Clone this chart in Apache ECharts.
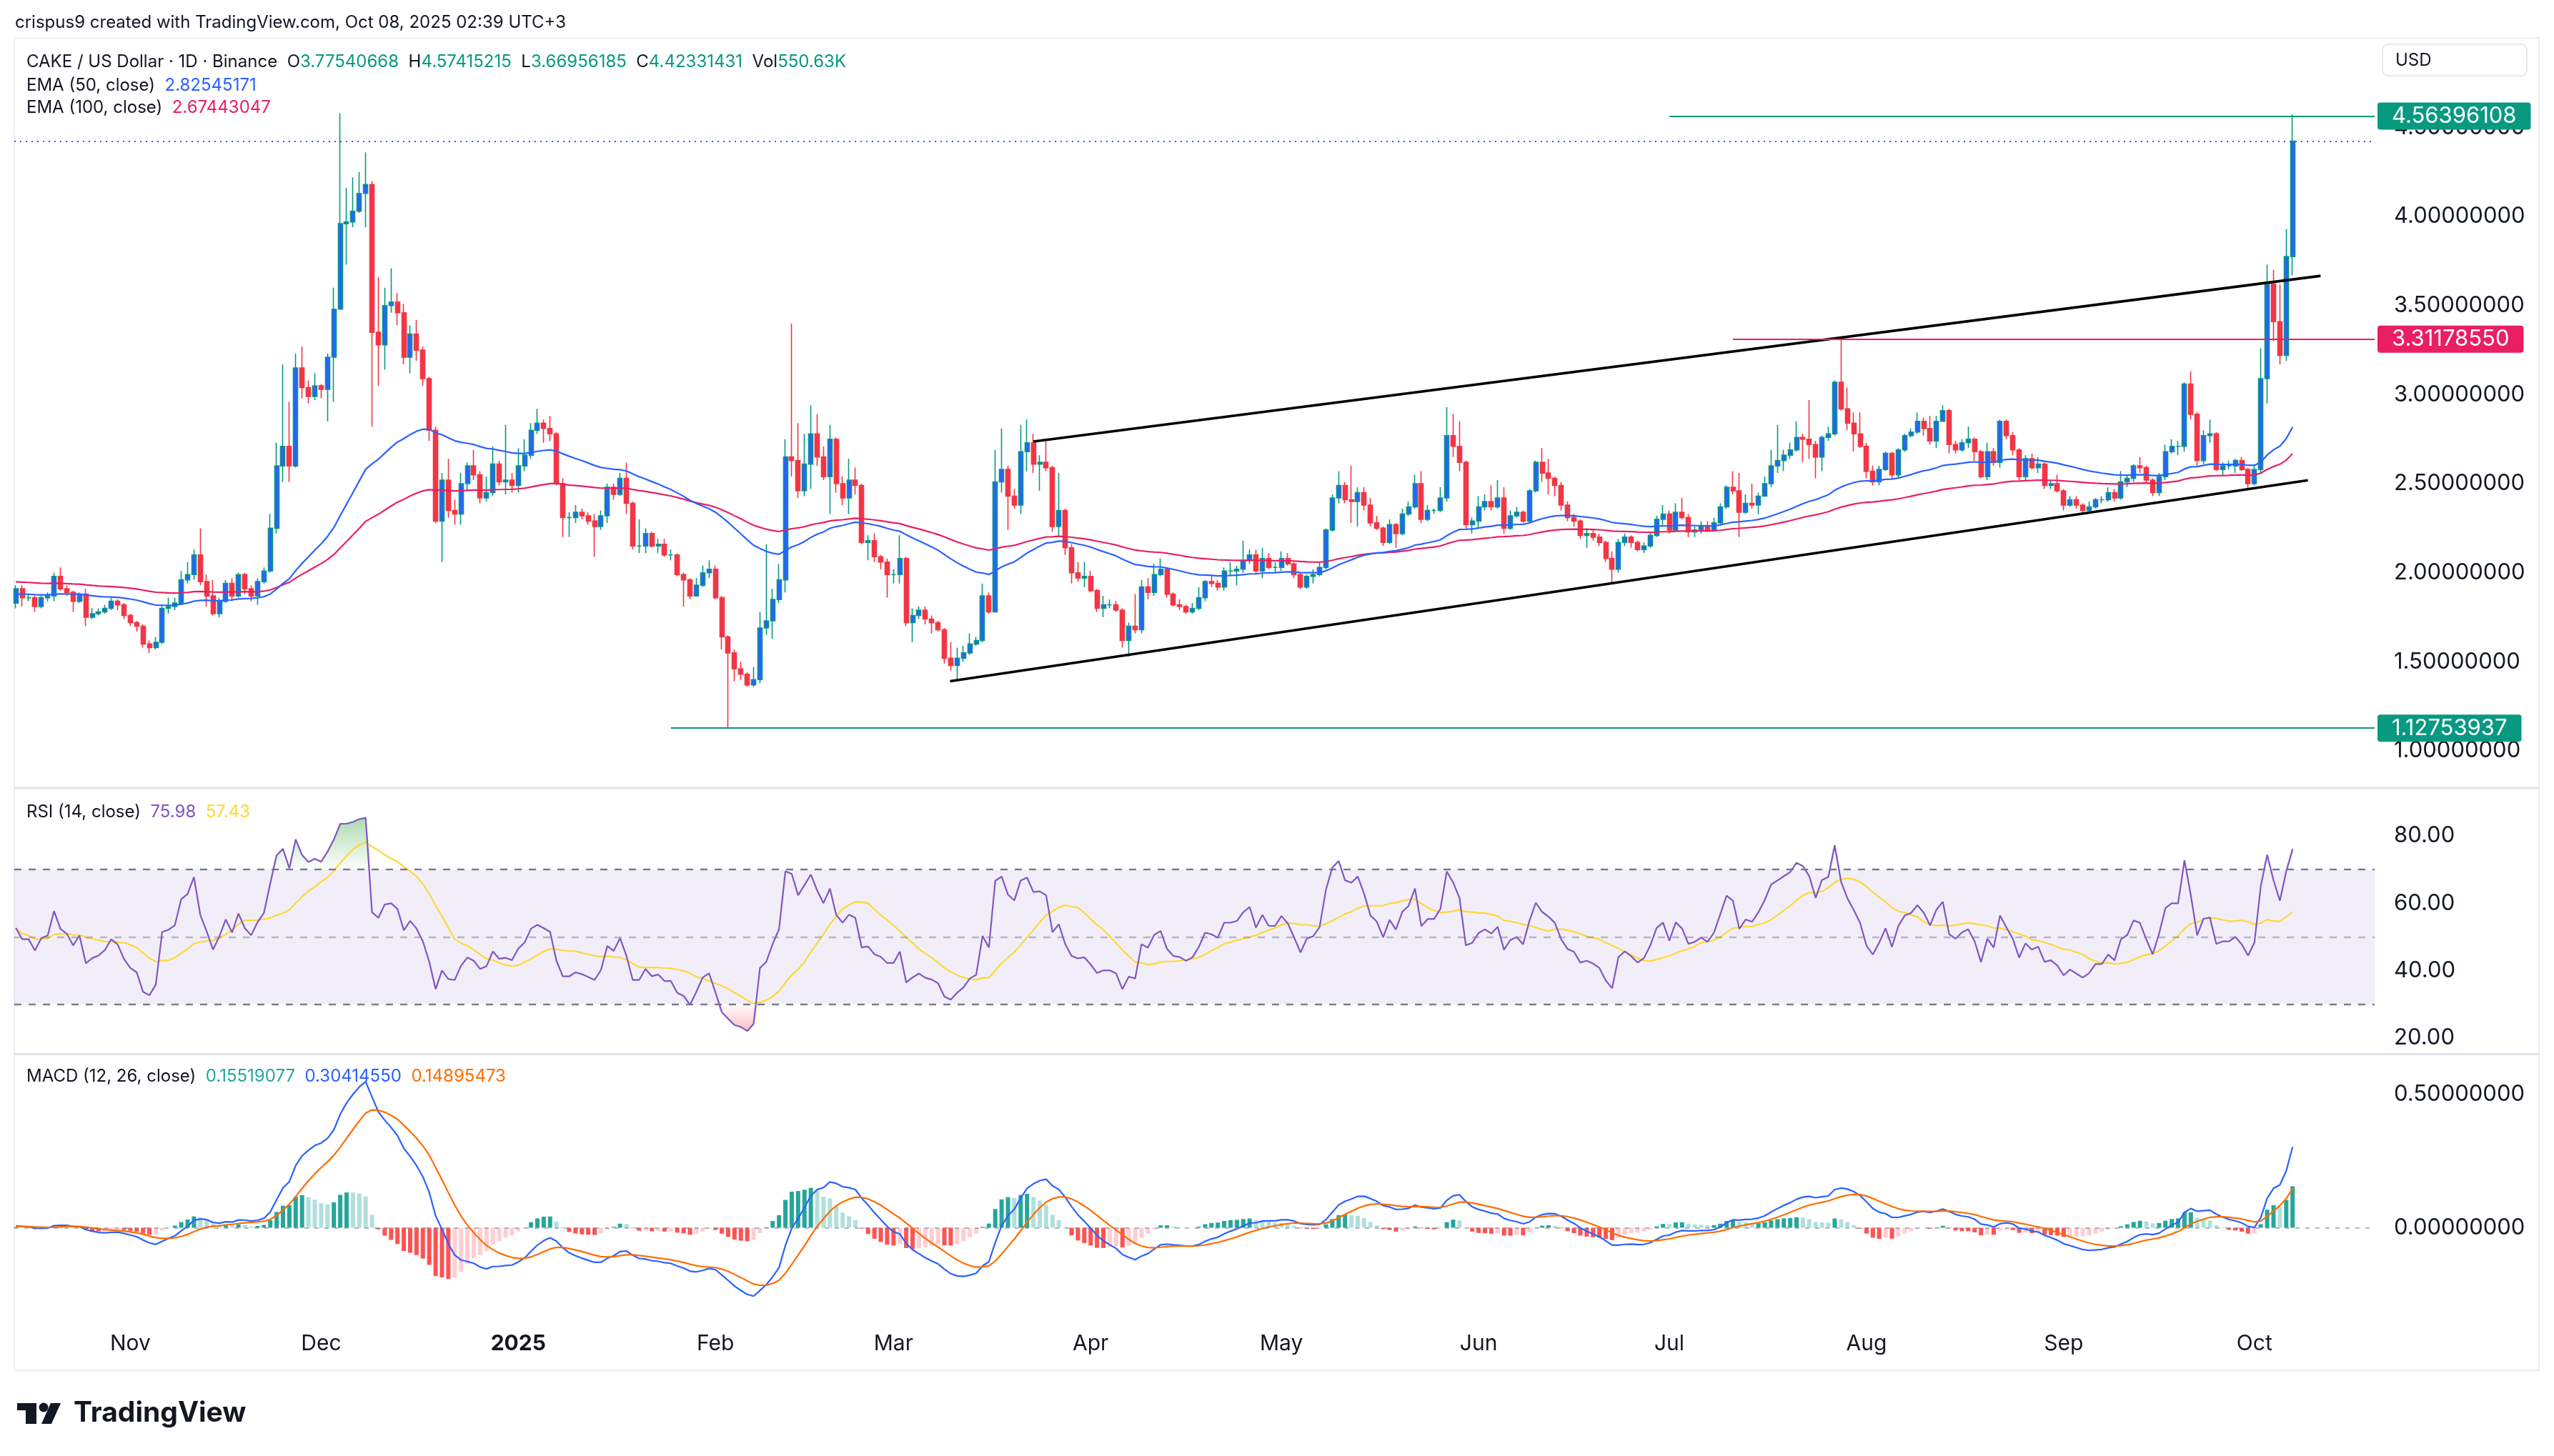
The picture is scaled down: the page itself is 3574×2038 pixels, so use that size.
<!DOCTYPE html>
<html>
<head>
<meta charset="utf-8">
<script src="https://cdn.jsdelivr.net/npm/echarts@6/dist/echarts.min.js"></script>
<style>html,body{margin:0;padding:0;background:#ffffff}#c{width:3574px;height:2038px}</style>
</head>
<body>
<div id="c"></div>
<script>
// ---------- DATA (daily CAKE/USD, day 0 = 2024-10-14) ----------
const startOpen = 1.83;
const closes = [
1.91,1.86,1.86,1.81,1.86,1.87,1.98,1.91,1.89,1.84,
1.88,1.75,1.77,1.78,1.80,1.84,1.82,1.76,1.72,1.70,
1.60,1.58,1.61,1.80,1.81,1.83,1.96,1.99,2.10,1.95,
1.87,1.77,1.84,1.94,1.87,1.99,1.91,1.87,1.95,2.01,
2.25,2.60,2.71,2.60,3.15,3.04,2.99,3.05,3.03,3.21,
3.48,3.96,3.97,4.03,4.13,4.18,3.35,3.28,3.50,3.52,
3.46,3.21,3.34,3.25,3.09,2.80,2.29,2.52,2.35,2.33,
2.50,2.60,2.55,2.42,2.45,2.61,2.51,2.52,2.49,2.60,
2.66,2.80,2.84,2.81,2.78,2.50,2.31,2.31,2.34,2.32,
2.29,2.26,2.32,2.48,2.44,2.53,2.39,2.15,2.15,2.22,
2.15,2.16,2.10,2.10,1.99,1.96,1.87,1.93,2.00,2.02,
1.86,1.64,1.55,1.46,1.43,1.37,1.40,1.69,1.73,1.85,
1.96,2.65,2.63,2.46,2.61,2.78,2.65,2.54,2.75,2.50,
2.42,2.52,2.49,2.17,2.18,2.09,2.06,1.99,1.99,2.08,
1.72,1.76,1.79,1.74,1.72,1.68,1.52,1.48,1.52,1.55,
1.60,1.62,1.87,1.78,2.51,2.58,2.43,2.38,2.68,2.73,
2.61,2.62,2.59,2.26,2.35,2.14,2.00,1.97,1.98,1.90,
1.80,1.82,1.82,1.79,1.62,1.70,1.68,1.92,1.89,1.99,
2.02,1.88,1.82,1.81,1.78,1.80,1.86,1.95,1.94,1.92,
2.01,2.01,2.02,2.07,2.10,2.01,2.08,2.03,2.03,2.08,
2.05,1.99,1.92,1.98,1.99,2.03,2.24,2.42,2.49,2.41,
2.40,2.45,2.38,2.28,2.25,2.17,2.27,2.22,2.33,2.37,
2.50,2.30,2.35,2.35,2.42,2.77,2.71,2.62,2.27,2.29,
2.37,2.40,2.37,2.42,2.25,2.32,2.34,2.29,2.46,2.62,
2.56,2.53,2.49,2.38,2.31,2.29,2.21,2.22,2.20,2.17,
2.08,2.02,2.17,2.20,2.17,2.13,2.15,2.21,2.30,2.33,
2.24,2.34,2.31,2.23,2.24,2.26,2.24,2.28,2.37,2.48,
2.46,2.34,2.39,2.38,2.43,2.50,2.60,2.63,2.66,2.69,
2.76,2.75,2.72,2.65,2.76,2.78,3.07,2.92,2.84,2.78,
2.71,2.57,2.51,2.58,2.67,2.55,2.69,2.77,2.79,2.85,
2.81,2.74,2.85,2.91,2.72,2.69,2.73,2.75,2.68,2.54,
2.68,2.62,2.85,2.77,2.69,2.54,2.64,2.59,2.61,2.49,
2.50,2.46,2.38,2.41,2.38,2.35,2.37,2.41,2.41,2.45,
2.42,2.51,2.53,2.60,2.59,2.52,2.45,2.54,2.68,2.71,
2.71,3.06,2.89,2.63,2.77,2.78,2.58,2.60,2.60,2.63,
2.58,2.50,2.58,3.09,3.62,3.41,3.22,3.77540668,4.42331431
];
const highs = [
1.93,1.93,1.88,1.87,1.87,1.89,2.00,2.03,1.93,1.90,
1.89,1.91,1.80,1.80,1.82,1.86,1.85,1.83,1.77,1.73,
1.71,1.62,1.64,1.82,1.86,1.86,2.01,2.06,2.13,2.25,
1.99,1.96,1.86,1.96,1.97,2.00,2.00,1.93,1.97,2.03,
2.33,2.73,3.17,2.96,3.23,3.27,3.08,3.12,3.06,3.23,
3.60,4.58,4.16,4.22,4.25,4.36,4.20,3.66,3.60,3.71,
3.57,3.51,3.39,3.42,3.27,3.10,2.82,2.56,2.64,2.41,
2.56,2.62,2.69,2.57,2.54,2.71,2.63,2.83,2.56,2.70,
2.75,2.84,2.92,2.86,2.88,2.79,2.53,2.34,2.38,2.36,
2.34,2.33,2.35,2.50,2.50,2.56,2.62,2.40,2.30,2.25,
2.23,2.19,2.19,2.13,2.11,2.00,1.97,1.97,2.04,2.07,
2.04,1.87,1.65,1.57,1.50,1.44,1.47,1.78,2.16,1.91,
2.05,2.75,3.40,2.84,2.78,2.94,2.89,2.71,2.83,2.76,
2.54,2.64,2.59,2.50,2.21,2.22,2.10,2.08,2.02,2.21,
2.09,1.80,1.81,1.81,1.76,1.73,1.69,1.61,1.58,1.59,
1.66,1.64,1.94,1.89,2.69,2.81,2.60,2.47,2.83,2.86,
2.78,2.66,2.74,2.60,2.56,2.36,2.16,2.06,2.06,2.01,
1.91,1.87,1.85,1.84,1.80,1.72,1.88,1.96,1.97,2.05,
2.08,2.03,1.89,1.85,1.82,1.83,1.92,1.96,1.99,1.96,
2.03,2.06,2.04,2.18,2.13,2.13,2.14,2.11,2.06,2.12,
2.11,2.06,2.00,1.99,2.02,2.06,2.25,2.44,2.57,2.51,
2.60,2.48,2.48,2.42,2.32,2.26,2.30,2.28,2.36,2.40,
2.55,2.57,2.38,2.36,2.48,2.93,2.89,2.85,2.63,2.31,
2.43,2.44,2.49,2.52,2.48,2.35,2.37,2.35,2.47,2.63,
2.70,2.64,2.54,2.51,2.40,2.33,2.30,2.25,2.24,2.22,
2.18,2.12,2.19,2.22,2.21,2.18,2.17,2.23,2.32,2.38,
2.35,2.39,2.42,2.33,2.26,2.29,2.29,2.31,2.39,2.49,
2.57,2.56,2.44,2.50,2.45,2.54,2.69,2.83,2.69,2.73,
2.85,2.78,2.97,2.74,2.77,2.82,3.08,3.31,3.04,2.90,
2.90,2.73,2.60,2.60,2.68,2.68,2.70,2.78,2.81,2.90,
2.87,2.88,2.88,2.94,2.92,2.74,2.75,2.82,2.76,2.69,
2.73,2.70,2.86,2.86,2.79,2.70,2.66,2.67,2.65,2.62,
2.52,2.55,2.47,2.43,2.43,2.39,2.40,2.42,2.43,2.48,
2.47,2.57,2.55,2.61,2.65,2.60,2.53,2.56,2.72,2.75,
2.74,3.07,3.13,2.90,2.80,2.86,2.79,2.62,2.63,2.64,
2.65,2.59,2.61,3.26,3.73,3.70,3.62,3.93,4.57415215
];
const lows = [
1.80,1.81,1.84,1.78,1.80,1.84,1.84,1.90,1.87,1.78,
1.83,1.70,1.74,1.76,1.77,1.79,1.79,1.74,1.70,1.67,
1.58,1.55,1.57,1.60,1.77,1.79,1.82,1.94,1.96,1.93,
1.81,1.76,1.75,1.83,1.84,1.86,1.88,1.84,1.82,1.94,
2.00,2.22,2.51,2.51,2.59,2.98,2.95,2.97,2.98,2.85,
2.96,3.48,3.73,3.94,4.02,3.94,2.82,3.05,3.14,3.46,
3.39,3.17,3.12,3.19,3.05,2.74,2.28,2.06,2.31,2.27,
2.27,2.46,2.52,2.39,2.40,2.43,2.49,2.44,2.45,2.45,
2.57,2.64,2.78,2.73,2.74,2.49,2.20,2.20,2.28,2.30,
2.27,2.09,2.24,2.28,2.41,2.43,2.33,2.13,2.11,2.11,
2.14,2.11,2.09,2.07,1.98,1.81,1.85,1.87,1.92,1.97,
1.85,1.57,1.12753937,1.39,1.40,1.36,1.36,1.38,1.65,1.63,
1.83,1.89,2.54,2.42,2.43,2.47,2.60,2.52,2.33,2.45,
2.38,2.33,2.44,2.16,2.07,2.06,2.02,1.86,1.94,1.94,
1.70,1.61,1.74,1.71,1.66,1.67,1.49,1.45,1.40,1.50,
1.54,1.59,1.61,1.77,1.78,2.45,2.24,2.36,2.33,2.57,
2.56,2.46,2.57,2.23,2.20,2.10,1.94,1.95,1.92,1.89,
1.78,1.75,1.80,1.78,1.58,1.53,1.66,1.66,1.85,1.87,
1.98,1.86,1.81,1.79,1.77,1.77,1.79,1.84,1.92,1.90,
1.90,1.98,1.93,2.00,2.05,2.00,1.97,2.02,2.00,2.01,
2.04,1.97,1.91,1.91,1.94,1.98,2.02,2.23,2.39,2.39,
2.28,2.26,2.35,2.26,2.24,2.15,2.16,2.14,2.21,2.32,
2.36,2.28,2.29,2.33,2.34,2.40,2.65,2.57,2.25,2.22,
2.25,2.35,2.35,2.36,2.22,2.24,2.31,2.28,2.28,2.45,
2.51,2.44,2.43,2.35,2.29,2.26,2.19,2.14,2.18,2.15,
2.06,1.94,2.00,2.15,2.14,2.12,2.11,2.14,2.20,2.27,
2.22,2.23,2.30,2.20,2.20,2.22,2.23,2.23,2.27,2.36,
2.44,2.20,2.33,2.36,2.33,2.43,2.48,2.56,2.57,2.64,
2.68,2.62,2.64,2.53,2.57,2.74,2.77,2.91,2.80,2.68,
2.70,2.53,2.49,2.49,2.57,2.53,2.53,2.68,2.76,2.78,
2.77,2.72,2.70,2.85,2.67,2.67,2.68,2.70,2.63,2.53,
2.52,2.60,2.59,2.75,2.66,2.52,2.52,2.58,2.56,2.47,
2.47,2.45,2.35,2.37,2.36,2.33,2.34,2.36,2.39,2.40,
2.40,2.41,2.48,2.51,2.56,2.50,2.43,2.43,2.52,2.67,
2.66,2.68,2.86,2.60,2.61,2.73,2.57,2.55,2.58,2.56,
2.57,2.47,2.49,2.56,2.95,3.30,3.17,3.19,3.66956185
];
// month-start day indices and their labels
const monthTicks = [18,48,79,110,138,169,199,230,260,291,322,352];
const monthLabels = ['Nov','Dec','2025','Feb','Mar','Apr','May','Jun','Jul','Aug','Sep','Oct'];
const priceTicks = [1,1.5,2,2.5,3,3.5,4,4.5];
const rsiTicks = [20,40,60,80];
const macdTicks = [0,0.5];
// drawn levels (value, start day)
const levelHigh = 4.56396108, levelHighStart = 260;
const levelRes = 3.31178550, levelResStart = 270;
const levelLow = 1.12753937, levelLowStart = 103;
const lastClose = 4.42331431;
const lowerChannel = [[146.9, 1.391], [360.4, 2.519]];
const upperChannel = [[160.0, 2.737], [362.4, 3.667]];
// indicator state carried in from before day 0
const ema50Seed = 1.88, ema100Seed = 1.95;
const ema12Seed = 1.875, ema26Seed = 1.87, signalSeed = 0.004;
const rsiGainSeed = 0.030, rsiLossSeed = 0.027;

// ---------- derived series (standard indicator definitions) ----------
const N = closes.length;
const opens = closes.map((c, i) => i === 0 ? startOpen : closes[i - 1]);
const candles = closes.map((c, i) => [i, opens[i], c, lows[i], highs[i]]);
function emaOf(src, period, seed) {
  const a = 2 / (period + 1); let e = seed;
  return src.map(v => (e = a * v + (1 - a) * e));
}
const ema50 = emaOf(closes, 50, ema50Seed);
const ema100 = emaOf(closes, 100, ema100Seed);
const ema12 = emaOf(closes, 12, ema12Seed);
const ema26 = emaOf(closes, 26, ema26Seed);
const macd = ema12.map((v, i) => v - ema26[i]);
const signal = emaOf(macd, 9, signalSeed);
const hist = macd.map((v, i) => v - signal[i]);
const histColors = hist.map((h, i) => {
  const p = i === 0 ? 0 : hist[i - 1];
  if (h >= 0) return h >= p ? '#26a69a' : '#b2dfdb';
  return h <= p ? '#ff5252' : '#ffcdd2';
});
let ag = rsiGainSeed, al = rsiLossSeed;
const rsi = closes.map((c, i) => {
  if (i > 0) {
    const ch = c - closes[i - 1];
    ag = (ag * 13 + Math.max(ch, 0)) / 14;
    al = (al * 13 + Math.max(-ch, 0)) / 14;
  }
  return 100 - 100 / (1 + ag / al);
});
const rsiMA = rsi.map((v, i) => {
  const s = rsi.slice(Math.max(0, i - 13), i + 1);
  return s.reduce((a, b) => a + b, 0) / s.length;
});
const xy = arr => arr.map((v, i) => [i, v]);

// ---------- layout ----------
const FONT = 'Inter, "Noto Sans", sans-serif';
const TXT = '#131722';
const xMin = -0.25, xMax = 370.9;
const G = { left: 20, width: 3303 };

function xAxisFor(gi, show) {
  return {
    type: 'value', gridIndex: gi, min: xMin, max: xMax,
    axisLine: { show: false }, axisTick: { show: false }, splitLine: { show: false },
    axisLabel: show ? {
      show: true, customValues: monthTicks, color: TXT, fontSize: 30, fontFamily: FONT,
      margin: 30, verticalAlign: 'middle',
      formatter: v => {
        const k = monthTicks.findIndex(t => Math.abs(t - v) < 0.01);
        const s = k >= 0 ? monthLabels[k] : '';
        return /^\d{4}$/.test(s) ? '{b|' + s + '}' : s;
      },
      rich: { b: { fontWeight: 'bold', fontSize: 30, fontFamily: FONT, color: TXT } }
    } : { show: false }
  };
}
function yAxisFor(gi, min, max, ticks, dec) {
  return {
    type: 'value', gridIndex: gi, position: 'right', min, max,
    axisLine: { show: false }, axisTick: { show: false }, splitLine: { show: false },
    axisLabel: { customValues: ticks, formatter: v => v.toFixed(dec), color: TXT, fontSize: 31, fontFamily: FONT, margin: 27 }
  };
}
const lvlLabel = (txt, bg) => ({
  show: true, position: 'end', distance: 4, formatter: txt, color: '#ffffff',
  backgroundColor: bg, fontSize: 31, fontFamily: FONT, lineHeight: 30,
  padding: [4, 20, 4, 20], borderRadius: 4
});

const option = {
  animation: false,
  backgroundColor: '#ffffff',
  textStyle: { fontFamily: FONT },
  grid: [
    { left: G.left, width: G.width, top: 57, height: 1044, containLabel: false, outerBoundsMode: 'none' },
    { left: G.left, width: G.width, top: 1104, height: 370, containLabel: false, outerBoundsMode: 'none' },
    { left: G.left, width: G.width, top: 1477, height: 374, containLabel: false, outerBoundsMode: 'none' }
  ],
  xAxis: [xAxisFor(0, false), xAxisFor(1, false), xAxisFor(2, true)],
  yAxis: [
    yAxisFor(0, 0.79944, 4.9872, priceTicks, 8),
    yAxisFor(1, 15.48, 94.0, rsiTicks, 2),
    yAxisFor(2, -0.3552, 0.6475, macdTicks, 8)
  ],
  series: [
    {
      type: 'candlestick', name: 'CAKE', xAxisIndex: 0, yAxisIndex: 0,
      data: candles, encode: { x: 0, y: [1, 2, 3, 4] }, barWidth: 6.5,
      itemStyle: { color: '#2962ff', color0: '#f23645', borderColor: '#089981', borderColor0: '#f23645', borderWidth: 1.6 }
    },
    {
      type: 'line', name: 'EMA100', xAxisIndex: 0, yAxisIndex: 0, data: xy(ema100),
      showSymbol: false, silent: true, lineStyle: { color: '#e91e63', width: 2.2 }
    },
    {
      type: 'line', name: 'EMA50', xAxisIndex: 0, yAxisIndex: 0, data: xy(ema50),
      showSymbol: false, silent: true, clip: false, lineStyle: { color: '#2962ff', width: 2.2 },
      markLine: {
        silent: true, symbol: ['none', 'none'], animation: false,
        data: [
          [{ coord: [xMin, lastClose], lineStyle: { color: '#2962ff', width: 2, type: [2, 6] }, label: { show: false } }, { coord: [xMax, lastClose] }],
          [{ coord: lowerChannel[0], lineStyle: { color: '#000000', width: 3.6, type: 'solid' }, label: { show: false } }, { coord: lowerChannel[1] }],
          [{ coord: upperChannel[0], lineStyle: { color: '#000000', width: 3.6, type: 'solid' }, label: { show: false } }, { coord: upperChannel[1] }],
          [{ coord: [levelHighStart, levelHigh], lineStyle: { color: '#089981', width: 2.2, type: 'solid' }, label: lvlLabel(levelHigh.toFixed(8), '#089981') }, { coord: [xMax, levelHigh] }],
          [{ coord: [levelResStart, levelRes], lineStyle: { color: '#e91e63', width: 2.2, type: 'solid' }, label: lvlLabel(levelRes.toFixed(8), '#e91e63') }, { coord: [xMax, levelRes] }],
          [{ coord: [levelLowStart, levelLow], lineStyle: { color: '#089981', width: 2.2, type: 'solid' }, label: lvlLabel(levelLow.toFixed(8), '#089981') }, { coord: [xMax, levelLow] }]
        ]
      }
    },
    // RSI pane
    {
      type: 'line', name: 'obFill', xAxisIndex: 1, yAxisIndex: 1, data: xy(rsi.map(v => Math.max(v, 70))),
      showSymbol: false, silent: true, lineStyle: { opacity: 0, width: 0 },
      areaStyle: { origin: 70, color: { type: 'linear', x: 0, y: 0, x2: 0, y2: 1, colorStops: [{ offset: 0, color: 'rgba(76,175,80,0.65)' }, { offset: 1, color: 'rgba(76,175,80,0.02)' }] } }
    },
    {
      type: 'line', name: 'osFill', xAxisIndex: 1, yAxisIndex: 1, data: xy(rsi.map(v => Math.min(v, 30))),
      showSymbol: false, silent: true, lineStyle: { opacity: 0, width: 0 },
      areaStyle: { origin: 30, color: { type: 'linear', x: 0, y: 0, x2: 0, y2: 1, colorStops: [{ offset: 0, color: 'rgba(242,54,69,0.02)' }, { offset: 1, color: 'rgba(242,54,69,0.45)' }] } }
    },
    {
      type: 'line', name: 'RSI', xAxisIndex: 1, yAxisIndex: 1, data: xy(rsi),
      showSymbol: false, silent: true, lineStyle: { color: '#7e57c2', width: 2.2 }, z: 4,
      markArea: { silent: true, itemStyle: { color: 'rgba(126,87,194,0.10)' }, data: [[{ yAxis: 30 }, { yAxis: 70 }]] },
      markLine: {
        silent: true, symbol: ['none', 'none'], label: { show: false },
        data: [
          { yAxis: 70, lineStyle: { color: '#787b86', width: 2.4, type: [10, 10] } },
          { yAxis: 50, lineStyle: { color: 'rgba(120,123,134,0.5)', width: 2.4, type: [10, 10] } },
          { yAxis: 30, lineStyle: { color: '#787b86', width: 2.4, type: [10, 10] } }
        ]
      }
    },
    {
      type: 'line', name: 'RSI MA', xAxisIndex: 1, yAxisIndex: 1, data: xy(rsiMA),
      showSymbol: false, silent: true, lineStyle: { color: '#fdd835', width: 2.2 }, z: 3
    },
    // MACD pane
    {
      type: 'bar', name: 'Hist', xAxisIndex: 2, yAxisIndex: 2, barWidth: 6, silent: true,
      data: hist.map((v, i) => ({ value: [i, v], itemStyle: { color: histColors[i] } })),
      markLine: {
        silent: true, symbol: ['none', 'none'], label: { show: false },
        data: [{ yAxis: 0, lineStyle: { color: 'rgba(120,123,134,0.55)', width: 2, type: [6, 8] } }]
      }
    },
    {
      type: 'line', name: 'MACD', xAxisIndex: 2, yAxisIndex: 2, data: xy(macd),
      showSymbol: false, silent: true, lineStyle: { color: '#2962ff', width: 2.2 }, z: 4
    },
    {
      type: 'line', name: 'Signal', xAxisIndex: 2, yAxisIndex: 2, data: xy(signal),
      showSymbol: false, silent: true, lineStyle: { color: '#ff6d00', width: 2.2 }, z: 4
    }
  ],
  graphic: [
    { type: 'rect', silent: true, z: 0, shape: { x: 20, y: 53, width: 3533, height: 1865 }, style: { fill: 'none', stroke: '#eceef2', lineWidth: 2 } },
    { type: 'rect', silent: true, z: 0, shape: { x: 20, y: 1101.5, width: 3533, height: 3 }, style: { fill: '#e0e3eb' } },
    { type: 'rect', silent: true, z: 0, shape: { x: 20, y: 1474, width: 3533, height: 3 }, style: { fill: '#e0e3eb' } },
    { type: 'rect', silent: true, z: 10, shape: { x: 3334, y: 62, width: 202, height: 44, r: 8 }, style: { fill: '#ffffff', stroke: '#e6e8ee', lineWidth: 2 } },
    { type: 'text', silent: true, z: 11, x: 3352, y: 85, style: { text: 'USD', fill: TXT, fontSize: 24, fontFamily: FONT, verticalAlign: 'middle' } },
    { type: 'text', silent: true, z: 11, x: 21, y: 32, style: { text: 'crispus9 created with TradingView.com, Oct 08, 2025 02:39 UTC+3', fill: TXT, fontSize: 24, fontFamily: FONT, verticalAlign: 'middle' } },
    { type: 'text', silent: true, z: 11, x: 37, y: 87, style: {
        text: '{k|CAKE / US Dollar · 1D · Binance}  {k|O}{g|3.77540668}  {k|H}{g|4.57415215}  {k|L}{g|3.66956185}  {k|C}{g|4.42331431}  {k|Vol}{g|550.63K}',
        verticalAlign: 'middle', fontSize: 24, fontFamily: FONT,
        rich: { k: { fill: TXT, fontSize: 24, fontFamily: FONT }, g: { fill: '#089981', fontSize: 24, fontFamily: FONT } } } },
    { type: 'text', silent: true, z: 11, x: 37, y: 120, style: {
        text: '{k|EMA (50, close)}  {b|2.82545171}', verticalAlign: 'middle', fontSize: 24, fontFamily: FONT,
        rich: { k: { fill: TXT, fontSize: 24, fontFamily: FONT }, b: { fill: '#2962ff', fontSize: 24, fontFamily: FONT } } } },
    { type: 'text', silent: true, z: 11, x: 37, y: 151, style: {
        text: '{k|EMA (100, close)}  {p|2.67443047}', verticalAlign: 'middle', fontSize: 24, fontFamily: FONT,
        rich: { k: { fill: TXT, fontSize: 24, fontFamily: FONT }, p: { fill: '#e91e63', fontSize: 24, fontFamily: FONT } } } },
    { type: 'text', silent: true, z: 11, x: 37, y: 1137, style: {
        text: '{k|RSI (14, close)}  {v|75.98}  {y|57.43}', verticalAlign: 'middle', fontSize: 24, fontFamily: FONT,
        rich: { k: { fill: TXT, fontSize: 24, fontFamily: FONT }, v: { fill: '#7e57c2', fontSize: 24, fontFamily: FONT }, y: { fill: '#fdd835', fontSize: 24, fontFamily: FONT } } } },
    { type: 'text', silent: true, z: 11, x: 37, y: 1507, style: {
        text: '{k|MACD (12, 26, close)}  {t|0.15519077}  {b|0.30414550}  {o|0.14895473}', verticalAlign: 'middle', fontSize: 24, fontFamily: FONT,
        rich: { k: { fill: TXT, fontSize: 24, fontFamily: FONT }, t: { fill: '#26a69a', fontSize: 24, fontFamily: FONT }, b: { fill: '#2962ff', fontSize: 24, fontFamily: FONT }, o: { fill: '#ff6d00', fontSize: 24, fontFamily: FONT } } } },
    // TradingView logo
    { type: 'rect', silent: true, z: 11, shape: { x: 24, y: 1964, width: 27, height: 10 }, style: { fill: '#131722' } },
    { type: 'rect', silent: true, z: 11, shape: { x: 36, y: 1964, width: 15, height: 29 }, style: { fill: '#131722' } },
    { type: 'circle', silent: true, z: 11, shape: { cx: 61, cy: 1970, r: 6.5 }, style: { fill: '#131722' } },
    { type: 'polygon', silent: true, z: 11, shape: { points: [[71, 1964], [85, 1964], [72, 1993], [58, 1993]] }, style: { fill: '#131722' } },
    { type: 'text', silent: true, z: 11, x: 103, y: 1978, style: { text: 'TradingView', fill: '#131722', fontSize: 39, fontWeight: 'bold', fontFamily: FONT, verticalAlign: 'middle' } }
  ]
};

const chart = echarts.init(document.getElementById('c'), null, { renderer: 'canvas' });
chart.setOption(option);
</script>
</body>
</html>
